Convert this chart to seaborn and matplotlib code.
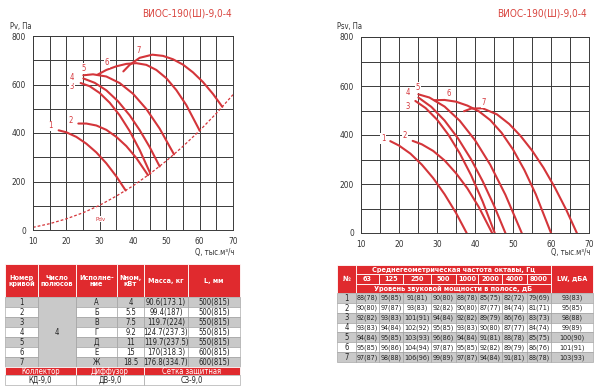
import matplotlib
matplotlib.use("Agg")
import matplotlib.pyplot as plt
import pandas as pd
import seaborn as sns
from matplotlib.patches import Rectangle

# ---------------- data ----------------
title = "ВИОС-190(Ш)-9,0-4"
xlabel = "Q, тыс.м³/ч"
ylabel_left = "Pv, Па"
ylabel_right = "Psv, Па"
curve_ids = ["1", "2", "3", "4", "5", "6", "7"]

q1 = [17.7, 20, 23, 26, 29, 32, 35, 37.8]
pv1 = [411, 403, 384, 356, 320, 275, 221, 163]
psv1 = [375, 357, 324, 279, 224, 158, 82, 0]

q2 = [23.6, 26, 29, 32, 35, 38, 41, 44.5]
pv2 = [439, 439, 431, 413, 384, 346, 297, 226]
psv2 = [376, 362, 335, 296, 244, 182, 106, 0]

q3 = [24.3, 27, 30, 33, 36, 39, 42, 45.2]
pv3 = [606, 593, 565, 525, 473, 408, 330, 233]
psv3 = [539, 510, 463, 401, 325, 235, 129, 0]

q4 = [25.1, 28.5, 32, 35.5, 39, 42, 45, 48]
pv4 = [625, 607, 576, 531, 473, 412, 342, 262]
psv4 = [553, 515, 459, 387, 300, 212, 112, 0]

q5 = [25.1, 28, 32, 36, 40, 44, 48, 52.3]
pv5 = [638, 642, 633, 606, 562, 499, 418, 312]
psv5 = [566, 553, 516, 458, 379, 279, 156, 0]

q6 = [29.3, 32, 35, 38, 41, 44, 47, 50, 53, 56, 60]
pv6 = [640, 660, 675, 685, 688, 681, 660, 626, 577, 515, 410]
psv6 = [542, 543, 536, 520, 497, 461, 409, 341, 257, 158, 0]

q7 = [37.1, 39, 42, 45.8, 49, 52, 55, 58, 61, 64, 66.8]
pv7 = [654, 681, 710, 723, 718, 704, 682, 650, 610, 561, 508]
psv7 = [497, 508, 509, 484, 445, 396, 337, 267, 186, 95, 0]

pdv_q = [10, 15, 20, 25, 30, 35, 40, 45, 50, 55, 60, 65, 70]
pdv_p = [11, 26, 46, 71, 102, 140, 182, 231, 285, 345, 410, 481, 558]

# curve label positions
lab_left_q = [15.3, 21.3, 21.6, 21.5, 25.3, 32.1, 41.8]
lab_left_p = [429, 450, 593, 628, 665, 691, 741]
lab_right_q = [15.8, 21.6, 22.3, 22.3, 25.0, 33.0, 42.3]
lab_right_p = [386, 396, 518, 572, 594, 568, 532]

# left table
tL_header = ["Номер\nкривой", "Число\nполюсов", "Исполне-\nние", "Nном,\nкВт", "Масса, кг", "L, мм"]
tL_poles = "4"
tL_version = ["А", "Б", "В", "Г", "Д", "Е", "Ж"]
tL_power = ["4", "5.5", "7.5", "9.2", "11", "15", "18.5"]
tL_mass = ["90.6(173.1)", "99.4(187)", "119.7(224)", "124.7(237.3)", "119.7(237.5)", "170(318.3)", "176.8(334.7)"]
tL_len = ["500(815)", "500(815)", "550(815)", "550(815)", "550(815)", "600(815)", "600(815)"]
tL_foot_head = ["Коллектор", "Диффузор", "Сетка защитная"]
tL_foot_val = ["КД-9,0", "ДВ-9,0", "СЗ-9,0"]

# right table
tR_head_top = "Среднегеометрическая частота октавы, Гц"
tR_freqs = ["63", "125", "250", "500", "1000", "2000", "4000", "8000"]
tR_head_bot = "Уровень звуковой мощности в полосе, дБ"
tR_rows = [
    ["88(78)", "95(85)", "91(81)", "90(80)", "88(78)", "85(75)", "82(72)", "79(69)", "93(83)"],
    ["90(80)", "97(87)", "93(83)", "92(82)", "90(80)", "87(77)", "84(74)", "81(71)", "95(85)"],
    ["92(82)", "93(83)", "101(91)", "94(84)", "92(82)", "89(79)", "86(76)", "83(73)", "98(88)"],
    ["93(83)", "94(84)", "102(92)", "95(85)", "93(83)", "90(80)", "87(77)", "84(74)", "99(89)"],
    ["94(84)", "95(85)", "103(93)", "96(86)", "94(84)", "91(81)", "88(78)", "85(75)", "100(90)"],
    ["95(85)", "96(86)", "104(94)", "97(87)", "95(85)", "92(82)", "89(79)", "86(76)", "101(91)"],
    ["97(87)", "98(88)", "106(96)", "99(89)", "97(87)", "94(84)", "91(81)", "88(78)", "103(93)"],
]

# ---------------- style ----------------
sns.set_style("white")
plt.rcParams["font.family"] = ["DejaVu Sans"]
plt.rcParams["font.stretch"] = "condensed"

RED = "#d4353a"
TRED = "#d9453f"
HRED = "#e02a2e"
GRAY = "#c9c9c9"
GRID = "#3a3a3a"

qs = [q1, q2, q3, q4, q5, q6, q7]
pvs = [pv1, pv2, pv3, pv4, pv5, pv6, pv7]
psvs = [psv1, psv2, psv3, psv4, psv5, psv6, psv7]

rows_l, rows_r = [], []
for cid, q, pv, psv in zip(curve_ids, qs, pvs, psvs):
    for a, b in zip(q, pv):
        rows_l.append({"Q": a, "P": b, "curve": cid})
    for a, b in zip(q, psv):
        rows_r.append({"Q": a, "P": b, "curve": cid})
df_l = pd.DataFrame(rows_l)
df_r = pd.DataFrame(rows_r)

W, H = 600, 387
fig = plt.figure(figsize=(6, 3.87), dpi=100)


def fax(x0, x1, ytop, ybot):
    return fig.add_axes([x0 / W, 1 - ybot / H, (x1 - x0) / W, (ybot - ytop) / H])


axL = fax(33, 233, 36, 230)
axR = fax(361, 589, 37, 233)

sns.lineplot(data=df_l, x="Q", y="P", hue="curve", palette=[RED] * 7, sort=False,
             estimator=None, legend=False, linewidth=1.5, ax=axL)
sns.lineplot(x=pdv_q, y=pdv_p, color=RED, linestyle=(0, (2.2, 1.6)), linewidth=0.9, ax=axL)
sns.lineplot(data=df_r, x="Q", y="P", hue="curve", palette=[RED] * 7, sort=False,
             estimator=None, legend=False, linewidth=1.5, ax=axR)

for ax in (axL, axR):
    ax.set_xlim(10, 70)
    ax.set_ylim(0, 800)
    ax.set_xticks(range(10, 71, 10))
    ax.set_xticks(range(15, 70, 10), minor=True)
    ax.set_yticks(range(0, 801, 200))
    ax.set_yticks(range(100, 800, 200), minor=True)
    ax.grid(True, which="both", color=GRID, linewidth=0.7)
    ax.set_axisbelow(True)
    for s in ax.spines.values():
        s.set_color(GRID)
        s.set_linewidth(0.7)
    ax.tick_params(which="both", direction="out", length=3, width=0.7, color=GRID,
                   labelsize=6, pad=2, labelcolor="#333333")
    ax.set_xlabel("")
    ax.set_ylabel("")

for t, x, y in zip(curve_ids, lab_left_q, lab_left_p):
    axL.text(x, y, t, color=RED, fontsize=5.5, ha="center", va="center",
             bbox=dict(facecolor="white", edgecolor="none", pad=0.6), zorder=5)
axL.text(30.3, 45, "Pdv", color=RED, fontsize=4.5, ha="center", va="center",
         bbox=dict(facecolor="white", edgecolor="none", pad=0.4), zorder=5)
for t, x, y in zip(curve_ids, lab_right_q, lab_right_p):
    axR.text(x, y, t, color=RED, fontsize=5.5, ha="center", va="center",
             bbox=dict(facecolor="white", edgecolor="none", pad=0.6), zorder=5)

# titles & labels
fig.text(187 / W, 1 - 14 / H, title, color=TRED, fontsize=7.2, ha="center", va="center")
fig.text(542 / W, 1 - 14 / H, title, color=TRED, fontsize=7.2, ha="center", va="center")
fig.text(10 / W, 1 - 26 / H, ylabel_left, fontsize=5.5, color="#333333", ha="left", va="center")
fig.text(337 / W, 1 - 26 / H, ylabel_right, fontsize=5.5, color="#333333", ha="left", va="center")
fig.text(234 / W, 1 - 253 / H, xlabel, fontsize=5.5, color="#333333", ha="right", va="center")
fig.text(590 / W, 1 - 253 / H, xlabel, fontsize=5.5, color="#333333", ha="right", va="center")

# ---------------- tables ----------------
axT = fig.add_axes([0, 0, 1, 1])
axT.set_xlim(0, W)
axT.set_ylim(H, 0)
axT.axis("off")
axT.patch.set_alpha(0)


def cell(x0, x1, y0, y1, fc, text=None, color="#222222", bold=False, ec="white",
         lw=0.6, fs=5.5):
    axT.add_patch(Rectangle((x0, y0), x1 - x0, y1 - y0, facecolor=fc, edgecolor=ec, linewidth=lw))
    if text:
        axT.text((x0 + x1) / 2, (y0 + y1) / 2 + 0.3, text, ha="center", va="center", color=color,
                 fontsize=fs, fontweight="bold" if bold else "normal", linespacing=1.0)


# left table
cL = [5, 38, 76, 117, 144, 188, 240]
hy0, hy1 = 264, 297
for i, h in enumerate(tL_header):
    cell(cL[i], cL[i + 1], hy0, hy1, HRED, h, color="white", bold=True, fs=5.2)
rh = 10
for r in range(7):
    y0 = hy1 + r * rh
    fc = GRAY if r % 2 == 0 else "white"
    cell(cL[0], cL[1], y0, y0 + rh, fc, curve_ids[r], ec="#9a9a9a", lw=0.4, fs=5.5)
    cell(cL[2], cL[3], y0, y0 + rh, fc, tL_version[r], ec="#9a9a9a", lw=0.4, fs=5.5)
    cell(cL[3], cL[4], y0, y0 + rh, fc, tL_power[r], ec="#9a9a9a", lw=0.4, fs=5.5)
    cell(cL[4], cL[5], y0, y0 + rh, fc, tL_mass[r], ec="#9a9a9a", lw=0.4, fs=5.5)
    cell(cL[5], cL[6], y0, y0 + rh, fc, tL_len[r], ec="#9a9a9a", lw=0.4, fs=5.5)
cell(cL[1], cL[2], hy1, hy1 + 7 * rh, GRAY, tL_poles, ec="#9a9a9a", lw=0.4, fs=5.5)
fy0 = hy1 + 7 * rh
fxs = [cL[0], cL[2], cL[4], cL[6]]
for i in range(3):
    cell(fxs[i], fxs[i + 1], fy0, fy0 + 8, HRED, tL_foot_head[i], color="white", fs=5.5)
    cell(fxs[i], fxs[i + 1], fy0 + 8, fy0 + 18, "white", tL_foot_val[i], ec="#9a9a9a", lw=0.4, fs=5.5)

# right table
cR = [337, 356, 379, 403, 431, 456, 478, 502, 527, 551, 593]
ry0, ry1, ry2, ry3 = 265, 274, 283.5, 293
cell(cR[0], cR[1], ry0, ry3, HRED, "№", color="white", bold=True, fs=5.2)
cell(cR[-2], cR[-1], ry0, ry3, HRED, "LW, дБА", color="white", bold=True, fs=5.2)
cell(cR[1], cR[-2], ry0, ry1, HRED, tR_head_top, color="white", bold=True, fs=5.2)
for i, f in enumerate(tR_freqs):
    cell(cR[1 + i], cR[2 + i], ry1, ry2, HRED, f, color="white", bold=True, fs=5.2)
cell(cR[1], cR[-2], ry2, ry3, HRED, tR_head_bot, color="white", bold=True, fs=5.2)
rrh = (362 - ry3) / 7
for r in range(7):
    y0 = ry3 + r * rrh
    fc = GRAY if r % 2 == 0 else "white"
    cell(cR[0], cR[1], y0, y0 + rrh, fc, curve_ids[r], ec="#9a9a9a", lw=0.4, fs=5.5)
    for j, v in enumerate(tR_rows[r]):
        cell(cR[1 + j], cR[2 + j], y0, y0 + rrh, fc, v, ec="#9a9a9a", lw=0.4, fs=5.1)

fig.savefig("out.png", dpi=100)
